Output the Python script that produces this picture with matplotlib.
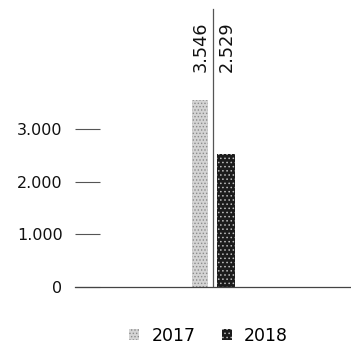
import matplotlib.pyplot as plt
import matplotlib as mpl

years = ['2017', '2018']
values = [3546, 2529]
labels = ['3.546', '2.529']
yticks = [0, 1000, 2000, 3000]
ytick_labels = ['0', '1.000', '2.000', '3.000']

mpl.rcParams['hatch.linewidth'] = 0.6

fig = plt.figure(figsize=(3.51, 3.44), dpi=100)
# axis box placed so the baseline sits low and the bars sit right of center
ax = fig.add_axes([0.2137, 0.1657, 0.783, 0.826])

xpos = [0, 1]
b1 = ax.bar(xpos[0], values[0], width=0.62, color='#d4d4d4', edgecolor='#8a8a8a',
            hatch='.....', linewidth=0, label=years[0])
b2 = ax.bar(xpos[1], values[1], width=0.68, color='#1c1c1c', edgecolor='#bdbdbd',
            hatch='....', linewidth=0, label=years[1])

ax.set_xlim(-4.8, 5.77)
ax.set_ylim(0, 5400)

# separator line between the two bars
ax.plot([0.5, 0.5], [0, 5280], color='#555555', linewidth=0.9)

for x, v, t in zip(xpos, values, labels):
    ax.text(x + 0.05, 4090, t, rotation=90, ha='center', va='bottom',
            fontsize=12.8, color='#111111')

ax.set_yticks(yticks)
ax.set_yticklabels(ytick_labels, fontsize=11.5, color='#111111')
ax.tick_params(axis='y', direction='in', length=18, width=0.8, color='#555555', pad=9)
ax.set_xticks([])
for s in ['left', 'right', 'top']:
    ax.spines[s].set_visible(False)
ax.spines['bottom'].set_color('#444444')
ax.spines['bottom'].set_linewidth(0.9)

fig.legend(handles=[b1, b2], labels=years, loc='lower center', ncol=2, frameon=False,
           bbox_to_anchor=(0.594, -0.047), fontsize=12.5, handlelength=0.6, handleheight=0.6,
           handletextpad=0.7, columnspacing=1.5)

fig.savefig('out.png', dpi=100)
